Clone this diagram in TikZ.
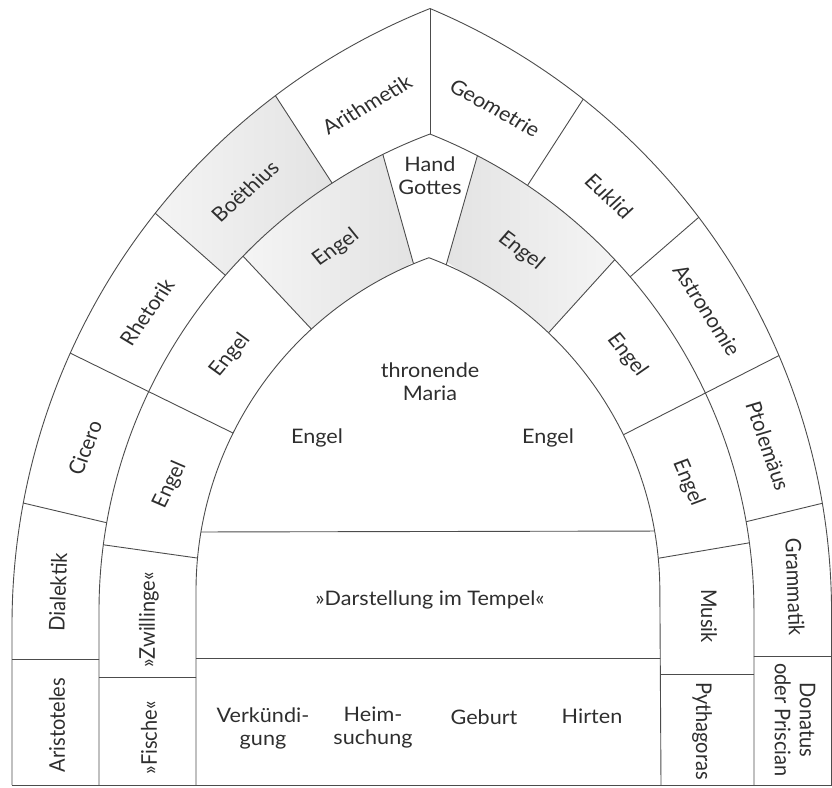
\documentclass[tikz,border=0pt]{standalone}
\usepackage{fontspec}
\setmainfont{Lato}
\begin{document}
\begin{tikzpicture}[x=1pt,y=-1pt,
  lbl/.style={font=\fontsize{20}{23}\selectfont, align=center, inner sep=0pt, text=black!82, xscale=1.08},
  ln/.style={draw=black!70, line width=0.9pt},
  shadeR/.style={left color=black!3, right color=black!11},
  shadeL/.style={left color=black!11, right color=black!3}]
\useasboundingbox (0,0) rectangle (832,787);
\def\OUTER{(12,785) -- (12,625) arc[start angle=180,end angle=248.28,radius=663.6] arc[start angle=-67.2,end angle=0,radius=655.5] -- (831.5,785)}
\def\MIDDLE{(99,785) -- (99,611) arc[start angle=180,end angle=249.51,radius=509.2] arc[start angle=-68.37,end angle=0,radius=513.1] -- (754,785)}
\def\INNER{(196,785) -- (196,591) arc[start angle=180,end angle=249.90,radius=354.9] arc[start angle=-69.26,end angle=0,radius=357.5] -- (661,785)}
% outer band: shading and dividers
\begin{scope}[even odd rule]
  \clip \OUTER -- cycle \MIDDLE -- cycle;
  \shade[shadeR] (120,182) -- (225,275) -- (332,183) -- (247,51) -- cycle;
  \draw[ln] (13,500.6) -- (118,525.4);
  \draw[ln] (141,200.6) -- (239,287.4);
  \draw[ln] (269,85.8) -- (338,192.2);
  \draw[ln] (430,0) -- (430,145);
  \draw[ln] (590,88.6) -- (523,192.4);
  \draw[ln] (706,211) -- (623,283);
  \draw[ln] (840,499) -- (735,524.4);
  \draw[ln] (0,659) -- (110,659);
  \draw[ln] (740,656) -- (840,656);
\end{scope}
% dividers across outer and middle bands
\begin{scope}[even odd rule]
  \clip \OUTER -- cycle \INNER -- cycle;
  \draw[ln] (55,345.6) -- (248,440.4);
  \draw[ln] (795,347.4) -- (608,442.6);
\end{scope}
% middle band: shading and dividers
\begin{scope}[even odd rule]
  \clip \MIDDLE -- cycle \INNER -- cycle;
  \shade[shadeR] (215,226) -- (312,330) -- (413,262) -- (373,119) -- cycle;
  \shade[shadeL] (487,122) -- (447,262) -- (549,332) -- (642,230) -- cycle;
  \draw[ln] (95,543.6) -- (207,559.4);
  \draw[ln] (238,250.8) -- (319,337.2);
  \draw[ln] (380,144.3) -- (416,272.7);
  \draw[ln] (480,146.5) -- (444,272.5);
  \draw[ln] (618,256.1) -- (543,338.9);
  \draw[ln] (757,541.5) -- (651,559.5);
  \draw[ln] (90,677) -- (205,677);
  \draw[ln] (650,674) -- (765,674);
\end{scope}
% inner field
\begin{scope}
  \clip \INNER -- cycle;
  \draw[ln] (190,532) -- (670,531);
  \draw[ln] (190,658) -- (670,658);
\end{scope}
% arch outlines
\draw[ln] \OUTER;
\draw[ln] \MIDDLE;
\draw[ln] \INNER;
\draw[ln] (12,785) -- (831.5,785);
% labels
\node[lbl, rotate=32] (arith) at (367,105) {Arithmetik};
\node[lbl, rotate=-31] (geom) at (495,108) {Geometrie};
\node[lbl, rotate=44] (boeth) at (245,191) {Boëthius};
\node[lbl, rotate=-45] (eukl) at (609,196) {Euklid};
\node[lbl, rotate=57] (rhet) at (147,312) {Rhetorik};
\node[lbl, rotate=-59] (astro) at (707,310) {Astronomie};
\node[lbl, rotate=70] (cic) at (85,448) {Cicero};
\node[lbl, rotate=-72] (ptol) at (768,446) {Ptolemäus};
\node[lbl, rotate=88] (dial) at (58,592) {Dialektik};
\node[lbl, rotate=-88] (gram) at (795,587) {Grammatik};
\node[lbl, rotate=90] (arist) at (57,725) {Aristoteles};
\node[lbl, rotate=-90] (donat) at (795,720) {Donatus\\oder Priscian};
\node[lbl] (hand) at (430,176) {Hand\\Gottes};
\node[lbl, rotate=37] (e1) at (336,248) {Engel};
\node[lbl, rotate=-39] (e2) at (521,251) {Engel};
\node[lbl, rotate=52] (e3) at (230,355) {Engel};
\node[lbl, rotate=-53] (e4) at (627,355) {Engel};
\node[lbl, rotate=65] (e5) at (170,485) {Engel};
\node[lbl, rotate=-68] (e6) at (688,483) {Engel};
\node[lbl, rotate=90] (zw) at (149,620) {»Zwillinge«};
\node[lbl, rotate=90] (fi) at (149,738) {»Fische«};
\node[lbl, rotate=-90] (mus) at (709,616) {Musik};
\node[lbl, rotate=-90] (pyth) at (702,731) {Pythagoras};
\node[lbl] (maria) at (430,382) {thronende\\Maria};
\node[lbl] (e7) at (317,438) {Engel};
\node[lbl] (e8) at (548,438) {Engel};
\node[lbl] (darst) at (430,600) {»Darstellung im Tempel«};
\node[lbl] (verk) at (263,728) {Verkündi-\\gung};
\node[lbl] (heim) at (373,728) {Heim-\\suchung};
\node[lbl] (geb) at (484,717) {Geburt};
\node[lbl] (hirt) at (592,716) {Hirten};
\end{tikzpicture}
\end{document}
